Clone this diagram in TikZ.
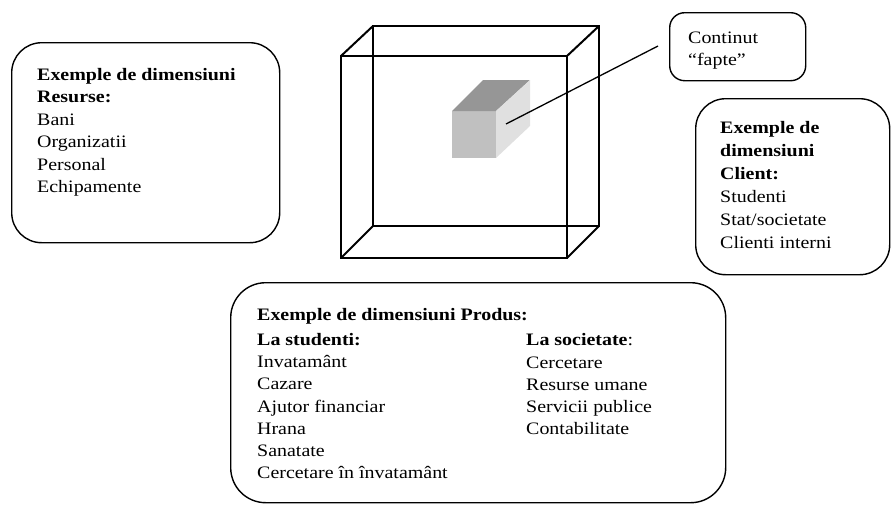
\documentclass[tikz,border=0pt]{standalone}
\usepackage{fontspec}
\setmainfont[FakeStretch=1.14]{Liberation Serif}
\definecolor{facetop}{RGB}{150, 150, 150}
\definecolor{facefront}{RGB}{192, 192, 192}
\definecolor{faceside}{RGB}{224, 224, 224}
\usetikzlibrary{positioning, calc}
\tikzset{
  dimbox/.style={draw, line width=1.4pt, rounded corners=30pt, anchor=north west, inner sep=0pt},
  dimtext/.style={anchor=north west, inner sep=0pt, align=left, font=\fontsize{17.5}{22.5}\selectfont},
  cubeline/.style={line width=2pt},
}
\begin{document}
\begin{tikzpicture}[x=1pt, y=-1pt]
\useasboundingbox (0,0) rectangle (892,504);
% casete cu dimensiuni
\node[dimbox, minimum width=268pt, minimum height=200pt] (res) at (11,42) {};
\node[dimbox, minimum width=194pt, minimum height=176pt] (cli) at (695,98) {};
\node[dimbox, minimum width=495pt, minimum height=220pt, rounded corners=35pt] (prod) at (230,282) {};
\node[dimbox, minimum width=136pt, minimum height=68pt, rounded corners=15pt] (fapte) at (669,12) {};
% texte
\node[dimtext] (restxt) at (37,67.8) {\textbf{Exemple de dimensiuni}\\ \textbf{Resurse:}\\ Bani\\ Organizatii\\ Personal\\ Echipamente};
\node[dimtext, font=\fontsize{17.5}{23}\selectfont] (clitxt) at (720,120.8) {\textbf{Exemple de}\\ \textbf{dimensiuni}\\ \textbf{Client:}\\ Studenti\\ Stat/societate\\ Clienti interni};
\node[dimtext, font=\fontsize{17.5}{22}\selectfont] (faptetxt) at (688,32) {Continut\\ “fapte”};
\node[dimtext, font=\fontsize{17.5}{22.3}\selectfont] (stud) at (257,307.8) {\textbf{Exemple de dimensiuni Produs:}\\[2.7pt] \textbf{La studenti:}\\ Invatamânt\\ Cazare\\ Ajutor financiar\\ Hrana\\ Sanatate\\ Cercetare în învatamânt};
\node[dimtext, font=\fontsize{17.5}{22.3}\selectfont] (soc) at (526,333.4) {\textbf{La societate}:\\ Cercetare\\ Resurse umane\\ Servicii publice\\ Contabilitate};
% cubul mare
\coordinate (f1) at (341,56);
\coordinate (f2) at (567,56);
\coordinate (f3) at (567,258);
\coordinate (f4) at (341,258);
\coordinate (b1) at (373,26);
\coordinate (b2) at (599,26);
\coordinate (b3) at (599,226);
\coordinate (b4) at (373,226);
\draw[cubeline] (b1) rectangle (b3);
\draw[cubeline] (f1) rectangle (f3);
\draw[cubeline] (f1) -- (b1) (f2) -- (b2) (f3) -- (b3) (f4) -- (b4);
% cubul mic
\fill[facefront] (452,111) rectangle (496,158);
\fill[facetop] (452,111) -- (483,80) -- (530,80) -- (496,111) -- cycle;
\fill[faceside] (496,111) -- (530,80) -- (530,126) -- (496,158) -- cycle;
\coordinate (pin) at (506,124);
\coordinate (pinend) at (658,46);
\draw[line width=1.3pt] (pin) -- (pinend);
\end{tikzpicture}
\end{document}
